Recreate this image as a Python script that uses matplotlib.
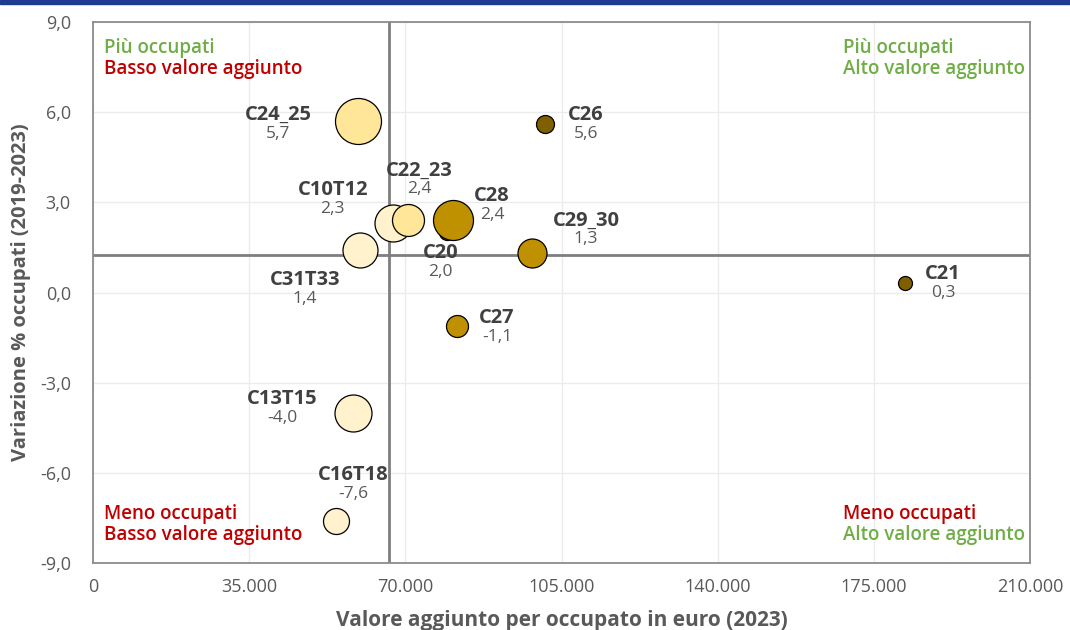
import matplotlib.pyplot as plt
from matplotlib.patches import Rectangle

# Data
sectors = ['C24_25', 'C26', 'C10T12', 'C22_23', 'C28', 'C20', 'C29_30',
           'C31T33', 'C27', 'C21', 'C13T15', 'C16T18']
value_added = [59400, 101300, 67200, 70600, 80700, 79300, 98400,
               59800, 81600, 182000, 58300, 54500]
emp_change = [5.7, 5.6, 2.3, 2.4, 2.4, 2.0, 1.3, 1.4, -1.1, 0.3, -4.0, -7.6]
bubble_px = [46, 18, 37, 32, 40, 16, 29, 35, 22, 14, 37, 26]
colors = ['#ffe699', '#7f6000', '#fff2cc', '#ffe699', '#bf9000', '#bf9000',
          '#bf9000', '#fff2cc', '#bf9000', '#7f6000', '#fff2cc', '#fff2cc']
mean_x = 66300
mean_y = 1.25

# label offsets (pixels) of the name from the bubble centre
label_off = [(-80, -6), (41, -9), (-60, -33), (11, -50), (39, -24), (-6, 21),
             (54, -33), (-55, 30), (40, -8), (38, -9), (-71, -14), (17, -46)]

plt.rcParams['font.family'] = ['Open Sans', 'DejaVu Sans']

fig = plt.figure(figsize=(10.7, 6.3), dpi=100)
ax = fig.add_axes([93/1070, 1-563/630, 937/1070, 541/630])

# top blue band
fig.patches.append(Rectangle((0, 1-4/630), 1, 4/630, transform=fig.transFigure,
                             color='#1f3a93', zorder=0))

ax.set_xlim(0, 210000)
ax.set_ylim(-9, 9)
xt = [0, 35000, 70000, 105000, 140000, 175000, 210000]
yt = [-9, -6, -3, 0, 3, 6, 9]
ax.set_xticks(xt)
ax.set_xticklabels([f"{v:,}".replace(',', '.') for v in xt])
ax.set_yticks(yt)
ax.set_yticklabels([f"{v:.1f}".replace('.', ',') for v in yt])
ax.tick_params(length=0, labelsize=13, labelcolor='#595959')
ax.tick_params(axis='y', pad=16)
ax.tick_params(axis='x', pad=11)
ax.grid(color='#ececec', linewidth=1)
ax.set_axisbelow(True)
for s in ax.spines.values():
    s.set_color('#8c8c8c')
    s.set_linewidth(1.3)

ax.axvline(mean_x, color='#7f7f7f', lw=2, zorder=1)
ax.axhline(mean_y, color='#7f7f7f', lw=2, zorder=1)

sizes = [(d * 0.72) ** 2 for d in bubble_px]
order = sorted(range(len(sectors)), key=lambda i: -bubble_px[i])
order = [i for i in order if sectors[i] != 'C20']
order = [sectors.index('C20')] + order
for i in order:
    ax.scatter(value_added[i], emp_change[i], s=sizes[i], c=colors[i],
               edgecolors='black', linewidths=0.9, zorder=3)

for i, name in enumerate(sectors):
    dx, dy = label_off[i]
    ax.annotate(name, (value_added[i], emp_change[i]), xytext=(dx*0.72, -dy*0.72),
                textcoords='offset points', ha='center', va='center',
                fontsize=14.5, fontweight='bold', color='#404040', zorder=4)
    ax.annotate(f"{emp_change[i]:.1f}".replace('.', ','), (value_added[i], emp_change[i]),
                xytext=(dx*0.72, (-dy-19)*0.72), textcoords='offset points',
                ha='center', va='center', fontsize=12.5, color='#595959', zorder=4)

green = '#70ad47'
red = '#c00000'
qfs = 13.5
qw = 'semibold'
ax.text(0.012, 0.952, 'Più occupati', color=green, fontsize=qfs, fontweight=qw, transform=ax.transAxes, va='center')
ax.text(0.012, 0.914, 'Basso valore aggiunto', color=red, fontsize=qfs, fontweight=qw, transform=ax.transAxes, va='center')
ax.text(0.800, 0.952, 'Più occupati', color=green, fontsize=qfs, fontweight=qw, transform=ax.transAxes, va='center')
ax.text(0.800, 0.913, 'Alto valore aggiunto', color=green, fontsize=qfs, fontweight=qw, transform=ax.transAxes, va='center')
ax.text(0.012, 0.090, 'Meno occupati', color=red, fontsize=qfs, fontweight=qw, transform=ax.transAxes, va='center')
ax.text(0.012, 0.051, 'Basso valore aggiunto', color=red, fontsize=qfs, fontweight=qw, transform=ax.transAxes, va='center')
ax.text(0.800, 0.090, 'Meno occupati', color=red, fontsize=qfs, fontweight=qw, transform=ax.transAxes, va='center')
ax.text(0.800, 0.051, 'Alto valore aggiunto', color=green, fontsize=qfs, fontweight=qw, transform=ax.transAxes, va='center')

ax.set_xlabel('Valore aggiunto per occupato in euro (2023)', fontsize=15,
              fontweight='bold', color='#595959', labelpad=10)
ax.set_ylabel('Variazione % occupati (2019-2023)', fontsize=14.5,
              fontweight='bold', color='#595959', labelpad=6)

fig.savefig('out.png', dpi=100)
